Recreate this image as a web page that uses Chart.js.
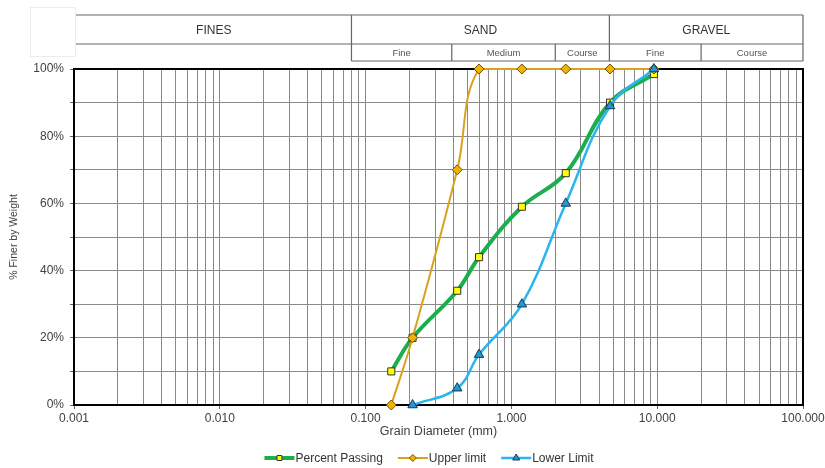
<!DOCTYPE html>
<html>
<head>
<meta charset="utf-8">
<script src="https://cdn.jsdelivr.net/npm/chart.js@4.4.1/dist/chart.umd.min.js"></script>
<style>
  html, body { margin: 0; padding: 0; background: #fff; }
  #wrap { width: 825px; height: 468px; }
</style>
</head>
<body>
<div id="wrap"><canvas id="chart"></canvas></div>
<script>
// sieve sizes (mm) and % finer
const sieveSizes = [0.15, 0.21, 0.425, 0.6, 1.18, 2.36, 4.75, 9.5];
const percentPassing = [10, 20, 34, 44, 59, 69, 90, 98.5];
const upperLimit = [0, 20, 70, 100, 100, 100, 100, 100];
const lowerLimit = [null, 0, 5, 15, 30, 60, 89, 100];

const xTickValues = [0.001, 0.01, 0.1, 1, 10, 100];
const xTickLabels = ['0.001', '0.010', '0.100', '1.000', '10.000', '100.000'];
const yTickLabels = ['0%', '20%', '40%', '60%', '80%', '100%'];

// header table (soil classes)
const soilGroups = ['FINES', 'SAND', 'GRAVEL'];
const soilGroupEdges = [0.08, 4.7];
const soilSubGroups = ['Fine', 'Medium', 'Course', 'Fine', 'Course'];
const soilSubEdges = [0.39, 2.0, 20];

const FONT = 'Liberation Sans';

const toPoints = vals => sieveSizes
  .map((d, i) => ({ x: d, y: vals[i] }))
  .filter(p => p.y !== null);

// minor grid: 1..9 in each decade
let gridValues = [];
xTickValues.forEach((d, i) => {
  if (i === xTickValues.length - 1) { gridValues.push(d); return; }
  for (let k = 1; k <= 9; k++) gridValues.push(d * k);
});

const isDecade = v => xTickValues.findIndex(d => Math.abs(d - v) < d * 1e-6);

const frameAndHeader = {
  id: 'frameAndHeader',
  beforeDatasetsDraw(chart) {
    const { ctx, chartArea: a } = chart;
    ctx.save();
    ctx.strokeStyle = '#000';
    ctx.lineWidth = 2;
    ctx.strokeRect(a.left, a.top, a.right - a.left, a.bottom - a.top);
    ctx.restore();
  },
  afterDraw(chart) {
    const { ctx, chartArea: a } = chart;
    const xs = chart.scales.x;
    const top = 15, mid = 44, bot = 61;
    const left = a.left + 2, right = a.right;
    const g1 = xs.getPixelForValue(soilGroupEdges[0]);
    const g2 = xs.getPixelForValue(soilGroupEdges[1]);
    const s1 = xs.getPixelForValue(soilSubEdges[0]);
    const s2 = xs.getPixelForValue(soilSubEdges[1]);
    const s3 = xs.getPixelForValue(soilSubEdges[2]);

    ctx.save();
    // faint empty cell top-left
    ctx.strokeStyle = '#ececec';
    ctx.lineWidth = 1;
    ctx.strokeRect(30.5, 7.5, 45, 49);

    ctx.strokeStyle = '#666';
    ctx.lineWidth = 1.2;
    ctx.beginPath();
    ctx.moveTo(left, top); ctx.lineTo(right, top);
    ctx.moveTo(left, mid); ctx.lineTo(right, mid);
    ctx.moveTo(g1, bot); ctx.lineTo(right, bot);
    [g1, g2, right].forEach(x => { ctx.moveTo(x, top); ctx.lineTo(x, bot); });
    [s1, s2, s3].forEach(x => { ctx.moveTo(x, mid); ctx.lineTo(x, bot); });
    ctx.stroke();

    ctx.fillStyle = '#333';
    ctx.textAlign = 'center';
    ctx.textBaseline = 'middle';
    ctx.font = '12px ' + FONT;
    const gx = [left, g1, g2, right];
    soilGroups.forEach((t, i) => ctx.fillText(t, (gx[i] + gx[i + 1]) / 2, (top + mid) / 2 + 1));
    ctx.font = '9.5px ' + FONT;
    ctx.fillStyle = '#555';
    const sx = [g1, s1, s2, g2, s3, right];
    soilSubGroups.forEach((t, i) => ctx.fillText(t, (sx[i] + sx[i + 1]) / 2, (mid + bot) / 2 + 1));

    // legend: line + marker + text
    ctx.font = '12px ' + FONT;
    ctx.textAlign = 'left';
    const items = chart.data.datasets;
    const segW = 30, gap = 1, sep = 15;
    let total = 0;
    items.forEach(ds => { total += segW + gap + ctx.measureText(ds.label).width + sep; });
    total -= sep;
    let x = 429 - total / 2;
    const y = 458;
    items.forEach(ds => {
      ctx.strokeStyle = ds.borderColor;
      ctx.lineWidth = ds.borderWidth;
      ctx.beginPath(); ctx.moveTo(x, y); ctx.lineTo(x + segW, y); ctx.stroke();
      ctx.fillStyle = ds.pointBackgroundColor;
      ctx.strokeStyle = ds.pointBorderColor;
      ctx.lineWidth = 1;
      Chart.helpers.drawPoint(ctx, {
        pointStyle: ds.pointStyle, rotation: 0, radius: ds.pointRadius - 1.5, borderWidth: 1
      }, x + segW / 2, y);
      ctx.fillStyle = '#333';
      ctx.fillText(ds.label, x + segW + gap, y + 1);
      x += segW + gap + ctx.measureText(ds.label).width + sep;
    });
    ctx.restore();
  }
};

new Chart(document.getElementById('chart'), {
  type: 'scatter',
  data: {
    datasets: [
      {
        label: 'Percent Passing',
        data: toPoints(percentPassing),
        showLine: true,
        tension: 0.4,
        borderColor: '#1cae4e',
        borderWidth: 4,
        pointStyle: 'rect',
        pointRadius: 5,
        pointBackgroundColor: '#ffff00',
        pointBorderColor: '#333',
        pointBorderWidth: 1,
        clip: false,
        order: 3,
      },
      {
        label: 'Upper limit',
        data: toPoints(upperLimit),
        showLine: true,
        tension: 0.4,
        borderColor: '#d9a11c',
        borderWidth: 2,
        pointStyle: 'rectRot',
        pointRadius: 5,
        pointBackgroundColor: '#f2b300',
        pointBorderColor: '#6b5200',
        pointBorderWidth: 1,
        clip: false,
        order: 2,
      },
      {
        label: 'Lower Limit',
        data: toPoints(lowerLimit),
        showLine: true,
        tension: 0.4,
        borderColor: '#2bb5ee',
        borderWidth: 2.5,
        pointStyle: 'triangle',
        pointRadius: 5.5,
        pointBackgroundColor: '#1f9ad6',
        pointBorderColor: '#1d3550',
        pointBorderWidth: 1,
        clip: false,
        order: 1,
      },
    ],
  },
  options: {
    responsive: true,
    maintainAspectRatio: false,
    animation: false,
    devicePixelRatio: 1,
    layout: { padding: { left: 0, right: 22, top: 69, bottom: 29 } },
    plugins: { legend: { display: false }, tooltip: { enabled: false } },
    scales: {
      x: {
        type: 'logarithmic',
        min: 0.001,
        max: 100,
        afterBuildTicks: s => { s.ticks = gridValues.map(v => ({ value: v })); },
        afterFit: s => { s.height = 34; s.paddingLeft = 0; s.paddingRight = 0; },
        ticks: {
          autoSkip: false,
          maxRotation: 0,
          padding: 2,
          color: '#404040',
          font: { family: FONT, size: 12 },
          callback: v => { const i = isDecade(v); return i >= 0 ? xTickLabels[i] : ''; },
        },
        grid: {
          color: '#8a8a8a',
          lineWidth: 1,
          tickLength: 4,
          tickColor: c => (c.tick && isDecade(c.tick.value) >= 0 ? '#666' : 'rgba(0,0,0,0)'),
        },
        border: { color: '#000', width: 2 },
        title: {
          display: true,
          text: 'Grain Diameter (mm)',
          color: '#404040',
          font: { family: FONT, size: 12.5 },
          padding: 0,
        },
      },
      y: {
        min: 0,
        max: 100,
        afterFit: s => { s.width = 74; s.paddingTop = 0; s.paddingBottom = 0; },
        ticks: {
          stepSize: 10,
          autoSkip: false,
          padding: 6,
          color: '#404040',
          font: { family: FONT, size: 12 },
          callback: v => (v % 20 === 0 ? yTickLabels[v / 20] : ''),
        },
        grid: { color: '#8a8a8a', lineWidth: 1, tickLength: 4, tickColor: '#666' },
        border: { color: '#000', width: 2 },
        title: {
          display: true,
          text: '% Finer by Weight',
          color: '#404040',
          font: { family: FONT, size: 10.5 },
          padding: { top: 8, bottom: 0 },
        },
      },
    },
  },
  plugins: [frameAndHeader],
});
</script>
</body>
</html>
